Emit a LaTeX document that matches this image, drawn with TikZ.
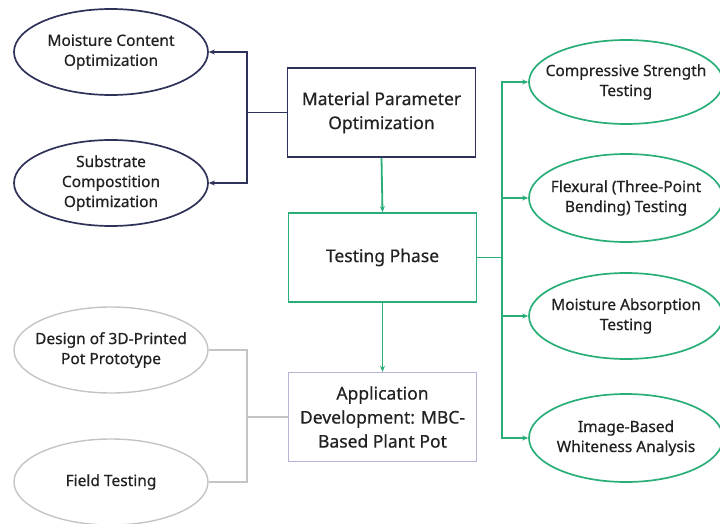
\documentclass[tikz,border=0pt]{standalone}
\usepackage{fontspec}
\setmainfont{Noto Sans}[FakeBold=0.6]
\usetikzlibrary{shapes.geometric,arrows.meta}
\definecolor{navy}{HTML}{2E3158}
\definecolor{teal}{HTML}{2AAE78}
\definecolor{lgrey}{HTML}{C4C4C4}
\definecolor{lav}{HTML}{B4B4D6}
\definecolor{ink}{HTML}{222222}
\tikzset{
  oval/.style={ellipse, draw, line width=1.7pt, minimum width=194pt, minimum height=86pt,
    inner xsep=-30pt, inner ysep=-12pt, align=center, text=ink, font=\fontsize{15.5}{20}\selectfont},
  mainbox/.style={rectangle, draw, line width=1.8pt, minimum width=188pt, minimum height=89pt,
    inner sep=0pt, align=center, text=ink, font=\fontsize{17.5}{24}\selectfont},
  link/.style={line width=1.8pt},
  tip/.style={-{Stealth[length=6pt,width=5pt]}}
}
\begin{document}
\begin{tikzpicture}[x=1pt,y=-1pt]
\useasboundingbox (0,0) rectangle (720,524);
% central column
\node[mainbox, draw=navy] (mat) at (381.5,112.5) {Material Parameter\\Optimization};
\node[mainbox, draw=teal] (test) at (382.5,257.5) {Testing Phase};
\node[mainbox, draw=lav, line width=1.4pt] (app) at (382.5,417) {Application\\Development: MBC-\\Based Plant Pot};
% left ovals
\node[oval, draw=navy] (moist) at (111,52) {Moisture Content\\Optimization};
\node[oval, draw=navy] (subs) at (111,183) {Substrate\\Compostition\\Optimization};
\node[oval, draw=lgrey, line width=1.4pt] (design) at (111,350) {Design of 3D-Printed\\Pot Prototype};
\node[oval, draw=lgrey, line width=1.4pt] (field) at (111,482) {Field Testing};
% right ovals
\node[oval, draw=teal, minimum height=84pt] (comp) at (626,82) {Compressive Strength\\Testing};
\node[oval, draw=teal, minimum height=88pt] (flex) at (626,198) {Flexural (Three-Point\\Bending) Testing};
\node[oval, draw=teal, minimum height=86pt] (abs) at (626,316) {Moisture Absorption\\Testing};
\node[oval, draw=teal, minimum height=88pt] (white) at (626,438) {Image-Based\\Whiteness Analysis};
% junction points
\coordinate (jl) at (247,112.5);
\coordinate (jg) at (247,417);
\coordinate (jr) at (502,257.5);
% connectors: material parameters
\draw[link, navy] (mat.west) -- (jl);
\draw[link, navy, tip] (jl) |- (moist.east);
\draw[link, navy, tip] (jl) |- (subs.east);
\draw[link, teal, tip] (mat.south) -- (test.north);
% connectors: testing
\draw[link, teal] (test.east) -- (jr);
\draw[link, teal, tip] (jr) |- (comp.west);
\draw[link, teal, tip] (jr) |- (flex.west);
\draw[link, teal, tip] (jr) |- (abs.west);
\draw[link, teal, tip] (jr) |- (white.west);
\draw[link, teal, tip] (test.south) -- (app.north);
% connectors: application
\draw[link, lgrey, line width=1.4pt] (app.west) -- (jg);
\draw[link, lgrey, line width=1.4pt] (jg) |- (design.east);
\draw[link, lgrey, line width=1.4pt] (jg) |- (field.east);
\end{tikzpicture}
\end{document}
